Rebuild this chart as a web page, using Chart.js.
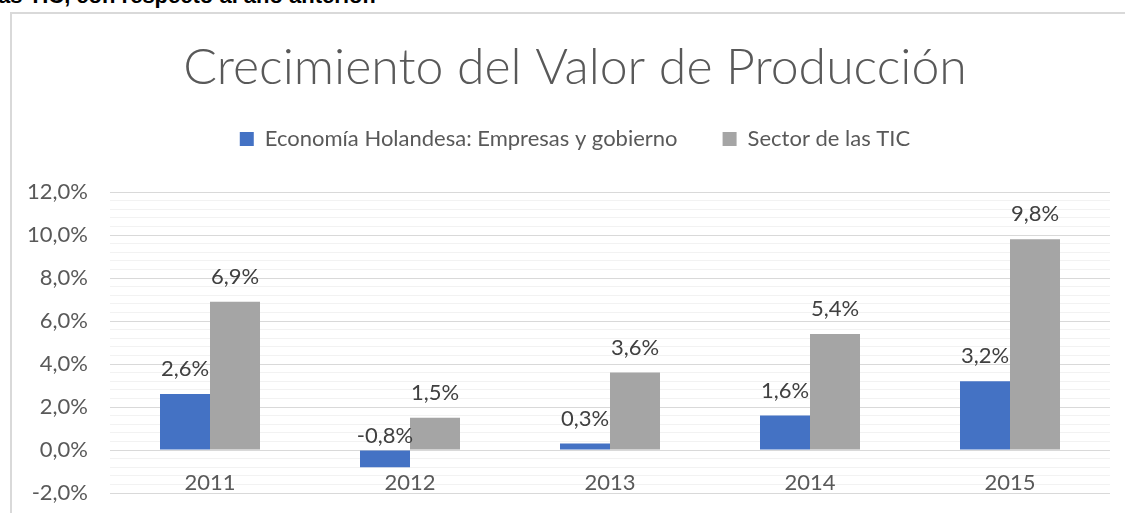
<!DOCTYPE html>
<html lang="es">
<head>
  <meta charset="UTF-8" />
  <title>Crecimiento del Valor de Producción</title>
  <style>
    html, body { margin: 0; padding: 0; background: #fff; }
    body { width: 1125px; height: 513px; position: relative; overflow: hidden; font-family: Lato, "Liberation Sans", sans-serif; }
    .cut { position: absolute; left: -8px; top: -17px; font: bold 22px "Liberation Sans", Arial, sans-serif; color: #000; white-space: nowrap; }
    .frame { position: absolute; left: 10px; top: 12px; width: 1200px; height: 600px; border: 2px solid #d9d9d9; }
    .wrap { position: absolute; left: 0; top: 0; width: 1125px; height: 513px; }
  </style>
</head>
<body>
  <div class="cut">las TIC, con respecto al año anterior.</div>
  <div class="frame"></div>
  <div class="wrap"><canvas id="growthChart" width="1125" height="513"></canvas></div>

  <script src="https://cdn.jsdelivr.net/npm/chart.js"></script>
  <script>
    const years = ['2011', '2012', '2013', '2014', '2015'];
    const economia = [2.6, -0.8, 0.3, 1.6, 3.2];
    const sectorTic = [6.9, 1.5, 3.6, 5.4, 9.8];
    const seriesNames = ['Economía Holandesa: Empresas y gobierno', 'Sector de las TIC'];

    const fmt = v => v.toFixed(1).replace('.', ',') + '%';
    const textColor = '#595959';
    const family = 'Lato, "Liberation Sans", sans-serif';

    // etiquetas de datos encima de cada barra
    const barLabels = {
      id: 'barLabels',
      afterDatasetsDraw(chart) {
        const ctx = chart.ctx;
        const zero = chart.scales.y.getPixelForValue(0);
        ctx.save();
        ctx.font = '22px ' + family;
        ctx.fillStyle = '#404040';
        ctx.textAlign = 'center';
        ctx.textBaseline = 'middle';
        chart.data.datasets.forEach((ds, i) => {
          chart.getDatasetMeta(i).data.forEach((bar, j) => {
            const v = ds.data[j];
            const y = v >= 0 ? bar.y - 25 : zero - 14;
            ctx.fillText(fmt(v), bar.x, y);
          });
        });
        ctx.restore();
      }
    };

    // hueco entre la leyenda y el área del gráfico
    const legendGap = {
      id: 'legendGap',
      beforeInit(chart) {
        Chart.layouts.addBox(chart, {
          position: 'top', weight: 1, fullSize: true, options: {},
          left: 0, top: 0, right: 0, bottom: 0, width: 0, height: 0,
          isHorizontal() { return true; },
          update(w) { this.width = w; this.height = 32; },
          draw() {}
        });
      }
    };

    new Chart(document.getElementById('growthChart'), {
      type: 'bar',
      data: {
        labels: years,
        datasets: [
          { label: seriesNames[0], data: economia, backgroundColor: '#4472C4' },
          { label: seriesNames[1], data: sectorTic, backgroundColor: '#A5A5A5' }
        ]
      },
      options: {
        responsive: false,
        animation: false,
        datasets: { bar: { categoryPercentage: 0.5, barPercentage: 1.0 } },
        layout: { padding: { left: 40, right: 15, top: 0, bottom: 20 } },
        plugins: {
          title: {
            display: true,
            text: 'Crecimiento del Valor de Producción',
            color: textColor,
            font: { family, size: 50, weight: 300, lineHeight: 0.6 },
            padding: { top: 53, bottom: 0 }
          },
          legend: {
            position: 'top',
            labels: {
              color: textColor,
              font: { family, size: 22 },
              boxWidth: 14,
              boxHeight: 14,
              padding: 45
            }
          },
          tooltip: { enabled: false }
        },
        scales: {
          x: {
            position: { y: 0 },
            grid: { display: false },
            border: { display: false },
            ticks: { color: textColor, font: { size: 22, family }, padding: 12 }
          },
          y: {
            min: -2,
            max: 12,
            afterFit(s) {
              s.width = 70;
              s.paddingTop = 0;
              s.paddingBottom = 0;
              s._computeLabelArea = () => undefined; // que no recorte las etiquetas
            },
            border: { display: false },
            grid: {
              drawTicks: false,
              color: c => Math.round(c.tick.value * 10) % 20 === 0 ? '#d9d9d9' : '#f2f2f2',
              lineWidth: 1
            },
            ticks: {
              stepSize: 0.4,
              autoSkip: false,
              padding: 22,
              color: textColor,
              font: { size: 22, family },
              callback: v => Math.round(v * 10) % 20 === 0 ? fmt(v) : ''
            }
          }
        }
      },
      plugins: [barLabels, legendGap]
    });
  </script>
</body>
</html>
